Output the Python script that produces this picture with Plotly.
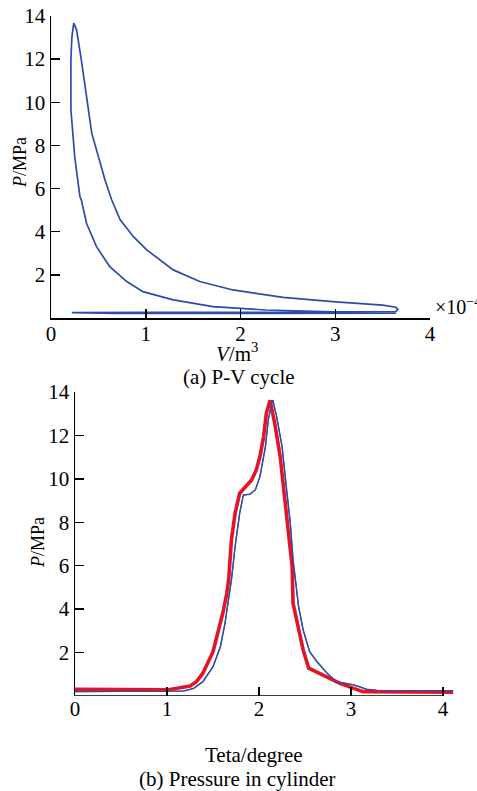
import plotly.graph_objects as go

# ---------------- Data: (a) P-V cycle (V in 1e-4 m^3, P in MPa) ----------------
pv_volume = [3.64, 2.97, 2.27, 1.71, 1.29, 0.97, 0.80, 0.62, 0.48, 0.375, 0.32, 0.305,
             0.25, 0.23, 0.21, 0.21, 0.22, 0.24, 0.27, 0.32, 0.39, 0.43, 0.50, 0.57,
             0.64, 0.73, 0.87, 1.01, 1.29, 1.57, 1.92, 2.45, 2.97, 3.50, 3.64, 3.66,
             3.64, 2.90, 2.00, 1.00, 0.22, 0.70, 1.50, 2.50, 3.64]
pv_pressure = [0.25, 0.29, 0.37, 0.53, 0.84, 1.22, 1.69, 2.38, 3.31, 4.39, 5.48, 5.63,
               7.49, 8.57, 9.65, 11.97, 13.0, 13.67, 13.36, 11.97, 9.65, 8.57, 7.49, 6.40,
               5.48, 4.55, 3.77, 3.16, 2.23, 1.69, 1.30, 0.96, 0.76, 0.60, 0.50, 0.40,
               0.30, 0.27, 0.26, 0.26, 0.25, 0.21, 0.21, 0.21, 0.22]

# ---------------- Data: (b) Pressure in cylinder ----------------
red_theta = [0.0, 1.0, 1.14, 1.25, 1.32, 1.39, 1.50, 1.56, 1.61, 1.65, 1.67, 1.70,
             1.74, 1.79, 1.87, 1.92, 1.97, 2.01, 2.05, 2.08, 2.12, 2.17, 2.23, 2.28,
             2.32, 2.36, 2.37, 2.43, 2.48, 2.54, 2.74, 2.88, 3.03, 3.13, 4.11]
red_pressure = [0.31, 0.28, 0.38, 0.46, 0.66, 1.05, 2.04, 3.04, 3.88, 4.73, 5.35, 7.19,
                8.42, 9.34, 9.72, 9.95, 10.41, 11.03, 11.95, 13.03, 13.62, 12.57, 11.03, 9.18,
                7.65, 5.96, 4.27, 3.04, 2.12, 1.28, 0.89, 0.58, 0.35, 0.20, 0.17]

blue_theta = [0.0, 1.0, 1.18, 1.29, 1.39, 1.50, 1.58, 1.63, 1.67, 1.70, 1.74, 1.79,
              1.83, 1.90, 1.96, 2.01, 2.07, 2.10, 2.14, 2.15, 2.19, 2.25, 2.30, 2.34,
              2.37, 2.43, 2.48, 2.55, 2.63, 2.74, 2.84, 3.03, 3.17, 3.28, 4.11]
blue_pressure = [0.20, 0.20, 0.23, 0.35, 0.66, 1.35, 2.27, 3.35, 4.42, 5.35, 6.88, 8.42,
                 9.26, 9.29, 9.49, 10.1, 11.5, 12.7, 13.56, 13.62, 12.9, 11.5, 9.49, 7.96,
                 6.27, 4.12, 3.04, 2.04, 1.58, 1.05, 0.66, 0.51, 0.31, 0.26, 0.24]

x_ticks = [0, 1, 2, 3, 4]
y_ticks = [2, 4, 6, 8, 10, 12, 14]

BLUE = "rgb(45,75,170)"
RED = "rgb(228,20,38)"
FONT = "Liberation Serif"
FS = 21

fig = go.Figure()
fig.add_trace(go.Scatter(x=pv_volume, y=pv_pressure, mode="lines",
                         line=dict(color=BLUE, width=1.7), xaxis="x", yaxis="y",
                         showlegend=False, hoverinfo="skip"))
fig.add_trace(go.Scatter(x=blue_theta, y=blue_pressure, mode="lines",
                         line=dict(color=BLUE, width=1.4), xaxis="x2", yaxis="y2",
                         showlegend=False, hoverinfo="skip"))
fig.add_trace(go.Scatter(x=red_theta, y=red_pressure, mode="lines",
                         line=dict(color=RED, width=3.6), xaxis="x2", yaxis="y2",
                         showlegend=False, hoverinfo="skip"))
fig.add_trace(go.Scatter(x=blue_theta, y=blue_pressure, mode="lines",
                         line=dict(color=BLUE, width=1.2), xaxis="x2", yaxis="y2",
                         showlegend=False, hoverinfo="skip", opacity=0.9))

W, H = 477, 791
def px_x(p):
    return p / W
def px_y(p):
    return (H - p) / H

axis_common = dict(showgrid=False, zeroline=False, ticks="inside", ticklen=9,
                   tickwidth=1.5, tickcolor="black", linecolor="black", linewidth=1.5,
                   tickfont=dict(family=FONT, size=FS, color="black"), fixedrange=True,
                   automargin=False, ticklabeloverflow="allow")

fig.update_layout(
    template="none",
    width=W, height=H, margin=dict(l=0, r=0, t=0, b=0, pad=0), autosize=False,
    paper_bgcolor="white", plot_bgcolor="white",
    font=dict(family=FONT, size=FS, color="black"),
    xaxis=dict(domain=[px_x(51), px_x(430)], range=[0, 4], tickvals=x_ticks,
               showline=True, anchor="y", ticklabelstandoff=-4, **axis_common),
    yaxis=dict(domain=[px_y(318), px_y(16)], range=[0, 14], tickvals=y_ticks,
               showline=True, anchor="x", **axis_common),
    xaxis2=dict(domain=[px_x(75), px_x(455)], range=[0, 4.13], tickvals=x_ticks,
                showline=False, anchor="y2", ticklabelstandoff=-2, **axis_common),
    yaxis2=dict(domain=[px_y(696), px_y(392)], range=[0, 14], tickvals=y_ticks,
                showline=True, anchor="x2", **axis_common),
    shapes=[dict(type="line", xref="x2", yref="y2", x0=0, x1=4, y0=0, y1=0,
                 line=dict(color="black", width=1.5), layer="below")],
)

ann = []
def add_text(text, x, y, angle=0, xanchor="center", size=FS):
    ann.append(dict(text=text, x=px_x(x), y=px_y(y), xref="paper", yref="paper",
                    showarrow=False, textangle=angle, xanchor=xanchor, yanchor="middle",
                    font=dict(family=FONT, size=size, color="black")))

add_text("<i>P</i>/MPa", 20, 163, angle=-90, size=18)
add_text("<i>V</i>/m<sup>3</sup>", 237, 353)
add_text("(a) P-V cycle", 239, 377)
add_text("×10<sup>−4</sup>", 433, 306, xanchor="left", size=20)
add_text("<i>P</i>/MPa", 38, 543, angle=-90, size=18)
add_text("Teta/degree", 254, 755)
add_text("(b) Pressure in cylinder", 237, 779)
fig.update_layout(annotations=ann)

fig.write_html("out.html", config={"displayModeBar": False, "staticPlot": True},
               post_script="document.body.style.margin='0';document.body.style.overflow='hidden';")
